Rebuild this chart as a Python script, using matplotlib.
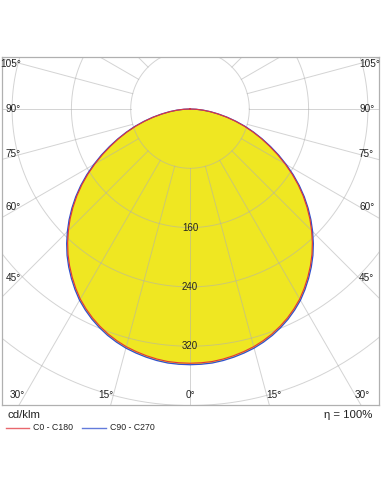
#!/usr/bin/env python3
"""
Polar luminous intensity diagram (cd/klm) for a downlight.
C0-C180 and C90-C270 planes, drawn on a clipped frame.
"""

import numpy as np
import matplotlib.pyplot as plt
from matplotlib.lines import Line2D

plt.rcParams['font.family'] = ['Liberation Sans', 'DejaVu Sans']

# Gamma angles (deg from nadir) and intensities (cd/klm)
gamma = np.array([0, 2.5, 5, 7.5, 10, 12.5, 15, 17.5, 20, 22.5,
                  25, 27.5, 30, 32.5, 35, 37.5, 40, 42.5, 45, 47.5,
                  50, 52.5, 55, 57.5, 60, 62.5, 65, 67.5, 70, 72.5,
                  75, 77.5, 80, 82.5, 85, 87.5, 90])
c0_c180 = np.array([343, 342.7, 342, 340.3, 338, 335.2, 332, 327.8, 323, 317.3,
                    311, 303.8, 296, 286.8, 277, 266.8, 256, 244.3, 232, 219.3,
                    206, 192.3, 178, 163.2, 148, 133, 118, 104, 90, 76.5,
                    63, 50.3, 38, 27, 17, 8, 0])
c90_c270 = np.array([345, 344.7, 344, 342.3, 340, 337.2, 334, 329.8, 325, 319.3,
                     313, 305.8, 298, 288.8, 279, 268.8, 258, 246.3, 234, 221.3,
                     208, 194.3, 180, 165.2, 150, 135, 120, 105.5, 91.5, 78,
                     64.5, 51.5, 39, 28, 18, 8.5, 0])

ring_values = [80, 160, 240, 320, 400, 480, 560]
ring_labels = [160, 240, 320]
angle_ticks = [0, 15, 30, 45, 60, 75, 90, 105]
legend_names = ['C0 - C180', 'C90 - C270']
efficiency = 'η = 100%'
unit_label = 'cd/klm'

RED = '#e2343c'
BLUE = '#2f4fd0'
YELLOW = '#efe722'
GRID = '#b0b0b0'
TEXT = '#222222'


def to_xy(g_deg, inten, side):
    g = np.radians(g_deg)
    return side * inten * np.sin(g), -inten * np.cos(g)


def full_curve(values):
    # mirror the half-plane so the curve runs from -90 to +90
    xl, yl = to_xy(gamma[::-1], values[::-1], -1)
    xr, yr = to_xy(gamma, values, 1)
    return np.concatenate([xl, xr[1:]]), np.concatenate([yl, yr[1:]])


def main():
    W, H = 381, 492
    fig = plt.figure(figsize=(W / 100, H / 100), dpi=100)

    # frame in pixels, centre of diagram and px per cd/klm
    left, right, top, bottom = 2, 379, 57, 405
    cx, cy = 190, 109
    k = 59.3 / 80

    ax = fig.add_axes([left / W, (H - bottom) / H, (right - left) / W, (bottom - top) / H])
    ax.set_xlim((left - cx) / k, (right - cx) / k)
    ax.set_ylim(-(bottom - cy) / k, (cy - top) / k)
    ax.set_xticks([])
    ax.set_yticks([])
    for sp in ax.spines.values():
        sp.set_color('#b0b0b0')
        sp.set_linewidth(0.9)

    # fill and curves
    x0, y0 = full_curve(c0_c180)
    x9, y9 = full_curve(c90_c270)
    ax.fill(x9, y9, color=YELLOW, lw=0, zorder=1)
    ax.plot(x9, y9, color=BLUE, lw=0.9, zorder=4)
    ax.plot(x0, y0, color=RED, lw=0.8, zorder=5)

    # grid: rings and radial lines (radials start at first ring)
    t = np.linspace(0, 2 * np.pi, 400)
    for r in ring_values:
        ax.plot(r * np.cos(t), r * np.sin(t), color=GRID, lw=0.7, alpha=0.55, zorder=3)
    for a in range(0, 360, 15):
        ar = np.radians(a)
        ax.plot([ring_values[0] * np.sin(ar), 900 * np.sin(ar)],
                [-ring_values[0] * np.cos(ar), -900 * np.cos(ar)],
                color=GRID, lw=0.7, alpha=0.55, zorder=3)

    # intensity labels on the nadir axis
    for v in ring_labels:
        ax.text(0, -v, str(v), ha='center', va='center', fontsize=7,
                color=TEXT, zorder=6)

    # angle labels where rays meet an inset rectangle
    half_w = 169 / k
    depth = 286 / k
    for g in angle_ticks:
        sides = [0] if g == 0 else [-1, 1]
        for s in sides:
            dx = np.sin(np.radians(g)) * (s if s else 1)
            dy = -np.cos(np.radians(g))
            cands = []
            if abs(dx) > 1e-9:
                cands.append(half_w / abs(dx))
            if dy < 0:
                cands.append(depth / abs(dy))
            tt = min(cands)
            px, py = (dx * tt if s else 0), dy * tt
            ha = 'center' if s == 0 else ('right' if s < 0 else 'left')
            ax.text(px, py, f'{g}°', ha=ha, va='center', fontsize=7.2,
                    color=TEXT, zorder=6)

    # texts below the frame
    fig.text(7 / W, 1 - 415 / H, unit_label, ha='left', va='center',
             fontsize=8.2, color=TEXT)
    fig.text(372 / W, 1 - 415 / H, efficiency, ha='right', va='center',
             fontsize=8.2, color=TEXT)

    yl = 1 - 428 / H
    for (x_a, x_b, x_t), name, col in zip([(6, 29, 33), (82, 106, 110)],
                                          legend_names, [RED, BLUE]):
        fig.add_artist(Line2D([x_a / W, x_b / W], [yl, yl], color=col, lw=1.0,
                              alpha=0.75, transform=fig.transFigure))
        fig.text(x_t / W, yl, name, ha='left', va='center', fontsize=6.3,
                 color=TEXT)

    fig.savefig('out.png', dpi=100)


if __name__ == '__main__':
    main()
